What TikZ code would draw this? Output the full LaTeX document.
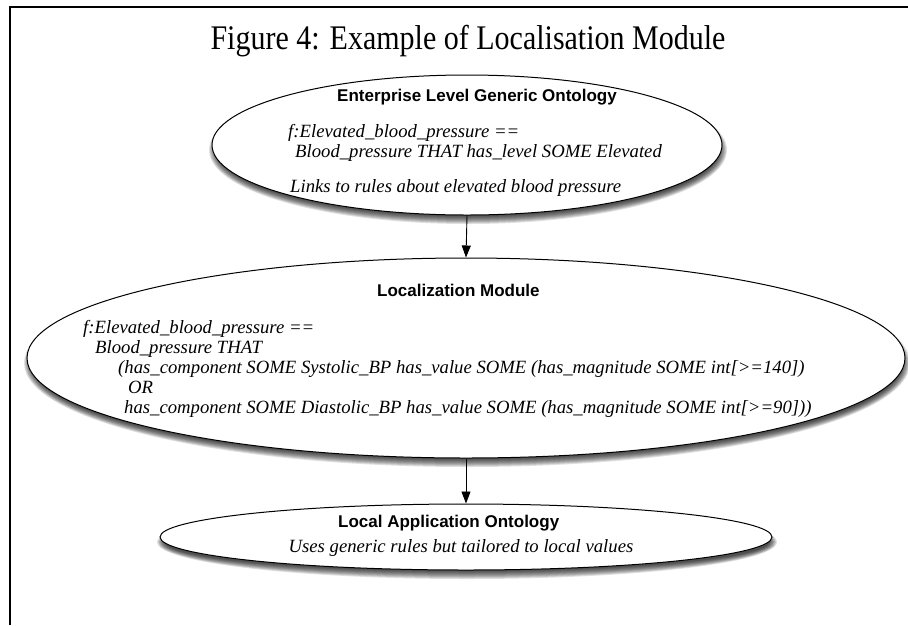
\documentclass[tikz,border=0pt]{standalone}
\usepackage{fontspec}
\setmainfont{Liberation Serif}
\setsansfont{Liberation Sans}
\usetikzlibrary{shapes.geometric,arrows.meta,calc}

\tikzset{
  onto/.style={ellipse, draw=black, line width=1pt, fill=white, inner sep=0pt},
  headtxt/.style={anchor=base west, inner sep=0pt, font=\sffamily\bfseries\fontsize{17}{20}\selectfont},
  deftxt/.style={anchor=base west, inner sep=0pt, font=\itshape\fontsize{18.7}{20}\selectfont},
  titletxt/.style={anchor=base, inner sep=0pt, font=\fontsize{30}{34}\selectfont},
  flow/.style={line width=0.9pt, -{Triangle[length=12pt,width=9pt]}},
  frame/.style={line width=1.6pt, black}
}

% soft shadow under an ellipse: centre, x radius, y radius
\newcommand{\softshadow}[3]{%
  \foreach \k in {0,...,8}{%
    \fill[black, opacity=0.12] ($(#1)+(1,5)$) ellipse [x radius={#2-4+\k}, y radius={#3-4+\k}];
  }%
}

\begin{document}
\begin{tikzpicture}[x=1pt, y=-1pt]
  \useasboundingbox (0,0) rectangle (908,625);

  % page frame (left and top rules)
  \draw[frame] (10,625) -- (10,7) -- (908,7);

  % title
  \node[titletxt] (title) at (468,49) {\scalebox{1}[1.15]{Figure 4: Example of Localisation Module}};

  % shadows
  \softshadow{467,145}{255}{70}
  \softshadow{466,358}{439}{100}
  \softshadow{466,537}{306}{33}

  % ontology layers
  \node[onto, minimum width=510pt, minimum height=140pt] (ent) at (467,145) {};
  \node[onto, minimum width=878pt, minimum height=200pt] (loc) at (466,358) {};
  \node[onto, minimum width=612pt, minimum height=66pt] (app) at (466,537) {};

  % enterprise level text
  \node[headtxt] (enth) at (337,101) {Enterprise Level Generic Ontology};
  \node[deftxt] (ent1) at (288,137) {f:Elevated\_blood\_pressure ==};
  \node[deftxt] (ent2) at (295,157) {Blood\_pressure THAT has\_level SOME Elevated};
  \node[deftxt] (ent3) at (290,192) {Links to rules about elevated blood pressure};

  % localization module text
  \node[headtxt] (loch) at (377,296) {Localization Module};
  \node[deftxt] (loc1) at (83,333) {f:Elevated\_blood\_pressure ==};
  \node[deftxt] (loc2) at (95,353) {Blood\_pressure THAT};
  \node[deftxt] (loc3) at (118,373) {(has\_component SOME Systolic\_BP has\_value SOME (has\_magnitude SOME int[>=140])};
  \node[deftxt] (loc4) at (128,393) {OR};
  \node[deftxt] (loc5) at (124,413) {has\_component SOME Diastolic\_BP has\_value SOME (has\_magnitude SOME int[>=90]))};

  % local application text
  \node[headtxt] (apph) at (338,527) {Local Application Ontology};
  \node[deftxt, anchor=base] (app1) at (461,552) {Uses generic rules but tailored to local values};

  % connectors
  \draw[flow] (ent.south) -- (loc.north);
  \draw[flow] (loc.south) -- (app.north);
\end{tikzpicture}
\end{document}
